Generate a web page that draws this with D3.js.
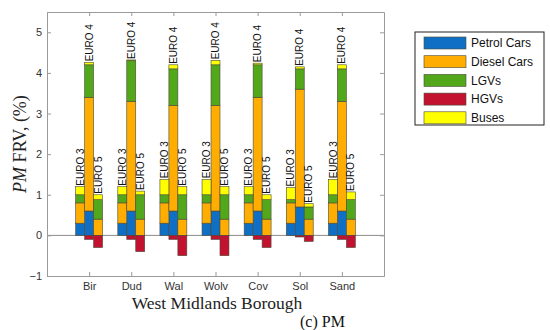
<!DOCTYPE html>
<html>
<head>
<meta charset="utf-8">
<script src="https://cdn.jsdelivr.net/npm/d3@7"></script>
<style>
  body { margin: 0; background: #fff; }
  svg { display: block; }
</style>
</head>
<body>
<script>
// categories
const boroughs = ["Bir", "Dud", "Wal", "Wolv", "Cov", "Sol", "Sand"];
const euroLabels = ["EURO 3", "EURO 4", "EURO 5"];
const vehicles = ["Petrol Cars", "Diesel Cars", "LGVs", "HGVs", "Buses"];
const yTicks = [-1, 0, 1, 2, 3, 4, 5];

// values per borough as [EURO 3, EURO 4, EURO 5]
const petrol = [[0.3, 0.6, 0], [0.3, 0.6, 0], [0.3, 0.6, 0], [0.3, 0.6, 0], [0.3, 0.6, 0], [0.3, 0.7, 0], [0.3, 0.6, 0]];
const diesel = [[0.5, 2.8, 0.4], [0.5, 2.7, 0.4], [0.5, 2.6, 0.4], [0.5, 2.6, 0.4], [0.5, 2.8, 0.4], [0.5, 2.9, 0.4], [0.5, 2.7, 0.4]];
const lgvs = [[0.2, 0.8, 0.48], [0.2, 1.0, 0.6], [0.2, 0.9, 0.6], [0.2, 1.0, 0.6], [0.2, 0.8, 0.48], [0.08, 0.5, 0.3], [0.2, 0.8, 0.48]];
const hgvs = [[0, -0.1, -0.3], [0, -0.1, -0.4], [0, -0.1, -0.5], [0, -0.1, -0.5], [0, -0.1, -0.3], [0, -0.04, -0.15], [0, -0.1, -0.3]];
const buses = [[0.2, 0.06, 0.12], [0.2, 0.02, 0.09], [0.38, 0.1, 0.2], [0.38, 0.11, 0.2], [0.2, 0.04, 0.12], [0.3, 0.05, 0.08], [0.38, 0.1, 0.19]];

const colors = ["#0f6fc4", "#ffad00", "#52a71a", "#c2122f", "#ffff00"];

let svg = d3.select("body").append("svg")
	.attr("width", 550)
	.attr("height", 330);

//plot box
let box = {left: 47, right: 384, top: 12, bottom: 276};

let scaleX = d3.scaleLinear().domain([0, 8]).range([box.left, box.right]);
let scaleY = d3.scaleLinear().domain([-1, 5.5]).range([box.bottom, box.top]);

//one row per borough and euro class
let rows = [];
boroughs.forEach((b, i) => {
	euroLabels.forEach((e, j) => {
		rows.push({
			pos: i + 1 + (j - 1) * 0.213,
			euro: e,
			"Petrol Cars": petrol[i][j],
			"Diesel Cars": diesel[i][j],
			"LGVs": lgvs[i][j],
			"HGVs": hgvs[i][j],
			"Buses": buses[i][j]
		});
	});
});

let stack = d3.stack().keys(vehicles).offset(d3.stackOffsetDiverging);
let series = stack(rows);
let barW = scaleX(0.213) - scaleX(0);

//zero baseline
svg.append("line")
	.attr("x1", box.left).attr("x2", box.right)
	.attr("y1", scaleY(0)).attr("y2", scaleY(0))
	.attr("stroke", "#8a8a8a")
	.attr("stroke-width", 1);

//bars
svg.append("g")
	.selectAll("g")
	.data(series)
	.join("g")
	.attr("fill", (d, i) => colors[i])
	.selectAll("rect")
	.data(d => d.filter(p => p[1] !== p[0]))
	.join("rect")
	.attr("x", d => scaleX(d.data.pos) - barW / 2)
	.attr("width", barW)
	.attr("y", d => scaleY(Math.max(d[0], d[1])))
	.attr("height", d => Math.abs(scaleY(d[0]) - scaleY(d[1])))
	.attr("stroke", "#4a4a3a")
	.attr("stroke-width", 0.6);

//euro labels above each bar
svg.append("g")
	.selectAll("text")
	.data(rows)
	.join("text")
	.attr("transform", d => {
		let topVal = vehicles.reduce((s, k) => s + Math.max(d[k], 0), 0);
		return `translate(${scaleX(d.pos)}, ${scaleY(topVal) - 1}) rotate(-90)`;
	})
	.attr("dy", "0.36em")
	.attr("font-family", "Liberation Sans, Arial, sans-serif")
	.attr("font-size", 10)
	.attr("fill", "#111")
	.text(d => d.euro);

//axes, ticks pointing inward like the box of the original
let axisColor = "#9a9a9a";
let tickFont = "Liberation Sans, Arial, sans-serif";

let yG = svg.append("g")
	.attr("transform", `translate(${box.left}, 0)`)
	.call(d3.axisLeft(scaleY).tickValues(yTicks).tickSize(-4).tickPadding(5).tickFormat(d3.format("d")));

let yR = svg.append("g")
	.attr("transform", `translate(${box.right}, 0)`)
	.call(d3.axisRight(scaleY).tickValues(yTicks).tickSize(-4).tickSizeOuter(0).tickFormat(""));

let xG = svg.append("g")
	.attr("transform", `translate(0, ${box.bottom})`)
	.call(d3.axisBottom(scaleX).tickValues(d3.range(1, 8)).tickSize(-4).tickPadding(6).tickFormat(d => boroughs[d - 1]));

let xT = svg.append("g")
	.attr("transform", `translate(0, ${box.top})`)
	.call(d3.axisTop(scaleX).tickValues(d3.range(1, 8)).tickSize(-4).tickSizeOuter(0).tickFormat(""));

[yG, yR, xG, xT].forEach(g => {
	g.selectAll("path").attr("stroke", axisColor);
	g.selectAll("line").attr("stroke", axisColor);
	g.selectAll("text")
		.attr("font-family", tickFont)
		.attr("font-size", 11)
		.attr("fill", "#333");
});

//axis titles
svg.append("text")
	.attr("transform", `translate(26, ${(box.top + box.bottom) / 2}) rotate(-90)`)
	.attr("text-anchor", "middle")
	.attr("font-family", "Liberation Serif, Times New Roman, serif")
	.attr("font-size", 18)
	.attr("fill", "#222")
	.call(t => {
		t.append("tspan").attr("font-style", "italic").text("PM");
		t.append("tspan").text(" FRV, (%)");
	});

svg.append("text")
	.attr("x", 217)
	.attr("y", 309)
	.attr("text-anchor", "middle")
	.attr("font-family", "Liberation Serif, Times New Roman, serif")
	.attr("font-size", 17.5)
	.attr("fill", "#222")
	.text("West Midlands Borough");

//caption
svg.append("text")
	.attr("x", 300)
	.attr("y", 327)
	.attr("font-family", "Liberation Serif, Times New Roman, serif")
	.attr("font-size", 16)
	.attr("fill", "#111")
	.text("(c) PM");

//legend
let legend = svg.append("g").attr("transform", "translate(415, 32)");

legend.append("rect")
	.attr("width", 129)
	.attr("height", 93)
	.attr("fill", "#fff")
	.attr("stroke", "#222")
	.attr("stroke-width", 1);

let item = legend.selectAll("g.item")
	.data(vehicles)
	.join("g")
	.attr("class", "item")
	.attr("transform", (d, i) => `translate(9, ${5 + i * 18.7})`);

item.append("rect")
	.attr("width", 42)
	.attr("height", 12)
	.attr("fill", (d, i) => colors[i])
	.attr("stroke", "#4a4a3a")
	.attr("stroke-width", 0.6);

item.append("text")
	.attr("x", 47)
	.attr("y", 6)
	.attr("dy", "0.35em")
	.attr("font-family", tickFont)
	.attr("font-size", 12)
	.attr("fill", "#111")
	.text(d => d);
</script>
</body>
</html>
